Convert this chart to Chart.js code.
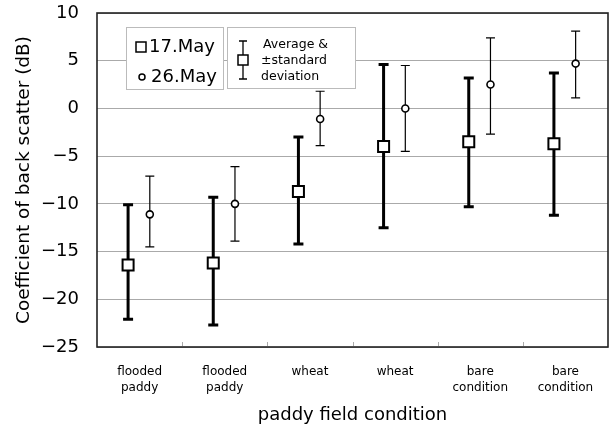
<!DOCTYPE html>
<html>
<head>
<meta charset="utf-8">
<script src="https://cdn.jsdelivr.net/npm/chart.js@4"></script>
<style>
  html, body { margin: 0; padding: 0; background: #fff; }
  #wrap { width: 613px; height: 427px; }
</style>
</head>
<body>
<div id="wrap"><canvas id="chart" width="613" height="427"></canvas></div>
<script>
// backscatter per field condition, two acquisition dates
const categories = [['flooded', 'paddy'], ['flooded', 'paddy'], ['wheat'], ['wheat'], ['bare', 'condition'], ['bare', 'condition']];
const may17Mean = [-16.4, -16.2, -8.7, -4.0, -3.5, -3.7];
const may17High = [-10.1, -9.3, -3.0, 4.6, 3.2, 3.7];
const may17Low = [-22.1, -22.7, -14.2, -12.5, -10.3, -11.2];
const may26Mean = [-11.1, -10.0, -1.1, 0.0, 2.5, 4.7];
const may26High = [-7.1, -6.1, 1.8, 4.5, 7.4, 8.1];
const may26Low = [-14.5, -13.9, -3.9, -4.5, -2.7, 1.1];
const yTicks = [-25, -20, -15, -10, -5, 0, 5, 10];

const FONT = '"DejaVu Sans", sans-serif';
const offset17 = -0.135;
const offset26 = 0.12;

const pts = (means, off) => means.map((v, i) => ({ x: i + 0.5 + off, y: v }));

// error bars, drawn under the markers
const errorBars = {
    id: 'errorBars',
    beforeDatasetsDraw(chart) {
        const ctx = chart.ctx;
        const xs = chart.scales.x, ys = chart.scales.y;
        const draw = (means, lows, highs, off, lw, cap) => {
            ctx.save();
            ctx.strokeStyle = '#000';
            ctx.lineWidth = lw;
            means.forEach((m, i) => {
                const px = xs.getPixelForValue(i + 0.5 + off);
                const top = ys.getPixelForValue(highs[i]);
                const bot = ys.getPixelForValue(lows[i]);
                ctx.beginPath();
                ctx.moveTo(px, top); ctx.lineTo(px, bot);
                ctx.moveTo(px - cap, top); ctx.lineTo(px + cap, top);
                ctx.moveTo(px - cap, bot); ctx.lineTo(px + cap, bot);
                ctx.stroke();
            });
            ctx.restore();
        };
        draw(may17Mean, may17Low, may17High, offset17, 3, 5);
        draw(may26Mean, may26Low, may26High, offset26, 1.2, 4.5);
    },
    afterDraw(chart) {
        const ctx = chart.ctx;
        const a = chart.chartArea;
        ctx.save();
        // frame
        ctx.strokeStyle = '#222';
        ctx.lineWidth = 1.6;
        ctx.strokeRect(a.left, a.top, a.right - a.left, a.bottom - a.top);
        // inner ticks between categories
        ctx.strokeStyle = '#aaa';
        ctx.lineWidth = 1;
        for (let i = 1; i < categories.length; i++) {
            const px = Math.round(chart.scales.x.getPixelForValue(i)) + 0.5;
            ctx.beginPath();
            ctx.moveTo(px, a.bottom - 1); ctx.lineTo(px, a.bottom - 5);
            ctx.stroke();
        }

        // legend boxes
        ctx.fillStyle = '#fff';
        ctx.strokeStyle = '#bbb';
        ctx.lineWidth = 1;
        ctx.fillRect(126, 27, 97, 62);
        ctx.strokeRect(126.5, 27.5, 97, 62);
        ctx.fillRect(227, 27, 128, 61);
        ctx.strokeRect(227.5, 27.5, 128, 61);

        ctx.strokeStyle = '#000';
        ctx.fillStyle = '#000';
        ctx.lineWidth = 1.5;
        ctx.strokeRect(136, 42, 10, 10);
        ctx.beginPath();
        ctx.arc(142, 77, 3, 0, Math.PI * 2);
        ctx.stroke();
        ctx.font = '18px ' + FONT;
        ctx.textBaseline = 'middle';
        ctx.textAlign = 'left';
        ctx.fillText('17.May', 149, 47);
        ctx.fillText('26.May', 151, 77);

        // error bar icon
        ctx.lineWidth = 1.3;
        ctx.beginPath();
        ctx.moveTo(243, 41); ctx.lineTo(243, 79);
        ctx.moveTo(239, 41); ctx.lineTo(247, 41);
        ctx.moveTo(239, 79); ctx.lineTo(247, 79);
        ctx.stroke();
        ctx.fillStyle = '#fff';
        ctx.fillRect(238, 55, 10, 10);
        ctx.lineWidth = 1.5;
        ctx.strokeRect(238, 55, 10, 10);
        ctx.fillStyle = '#000';
        ctx.font = '12.5px ' + FONT;
        ctx.fillText('Average &', 263, 45);
        ctx.fillText('\u00b1standard', 261, 61);
        ctx.fillText('deviation', 261, 77);
        ctx.restore();
    }
};

new Chart(document.getElementById('chart'), {
    type: 'scatter',
    data: {
        datasets: [
            {
                label: '17.May',
                data: pts(may17Mean, offset17),
                pointStyle: 'rect',
                pointRadius: 7.8,
                pointBorderWidth: 2,
                pointBackgroundColor: '#fff',
                pointBorderColor: '#000',
                showLine: false
            },
            {
                label: '26.May',
                data: pts(may26Mean, offset26),
                pointStyle: 'circle',
                pointRadius: 3.5,
                pointBorderWidth: 1.6,
                pointBackgroundColor: '#fff',
                pointBorderColor: '#000',
                showLine: false
            }
        ]
    },
    options: {
        responsive: false,
        animation: false,
        events: [],
        layout: { autoPadding: false, padding: { left: 9, right: 5, top: 13, bottom: 0 } },
        plugins: { legend: { display: false }, tooltip: { enabled: false } },
        scales: {
            x: {
                type: 'linear',
                min: 0,
                max: categories.length,
                display: false
            },
            xc: {
                type: 'category',
                position: 'bottom',
                labels: categories,
                offset: true,
                grid: { display: false },
                border: { display: false },
                ticks: {
                    color: '#000',
                    padding: 8,
                    font: { family: FONT, size: 12, lineHeight: 1.4 }
                },
                title: {
                    display: true,
                    text: 'paddy field condition',
                    color: '#000',
                    font: { family: FONT, size: 18 },
                    padding: { top: 4, bottom: 1 }
                },
                afterFit(scale) { scale.height = 80; }
            },
            y: {
                min: -25,
                max: 10,
                afterBuildTicks(scale) { scale.ticks = yTicks.map(v => ({ value: v })); },
                grid: { color: '#aaa', lineWidth: 1, tickLength: 0 },
                border: { display: false },
                ticks: {
                    color: '#000',
                    padding: 18,
                    font: { family: FONT, size: 18 },
                    callback: v => String(v).replace('-', '\u2212')
                },
                title: {
                    display: true,
                    text: 'Coefficient of back scatter (dB)',
                    color: '#000',
                    font: { family: FONT, size: 18.5 },
                    padding: { top: 4, bottom: 4 }
                },
                afterFit(scale) {
                    scale.width = 88;
                    scale.paddingTop = 0;
                    scale.paddingBottom = 0;
                }
            }
        }
    },
    plugins: [errorBars]
});
</script>
</body>
</html>
